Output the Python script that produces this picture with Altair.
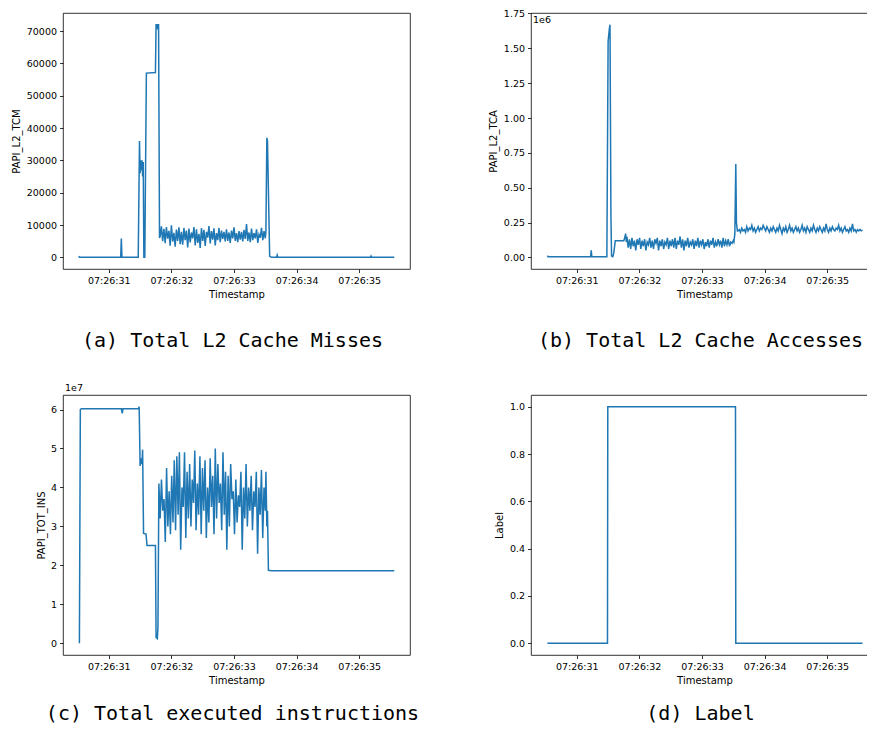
import altair as alt
import pandas as pd

BLUE = "#1f77b4"
W = 347
H_TOP, H_BOTTOM = 256, 260

# time axis: seconds after 07:26:30
X_DOMAIN = [0.268, 5.812]
X_TICKS = [1, 2, 3, 4, 5]

# ---------------- (a) PAPI_L2_TCM ----------------
a_t = [0.52, 0.53, 1.19, 1.20, 1.21, 1.47, 1.49, 1.50, 1.51, 1.52, 1.53, 1.54, 1.55,
       1.56, 1.575, 1.60, 1.745, 1.755, 1.775, 1.78, 1.785, 1.795, 1.81,
       3.51, 3.525, 3.535, 3.57, 3.60, 3.68, 3.69, 3.70, 5.18, 5.19, 5.20, 5.56]
a_v = [400, 0, 0, 5800, 0, 0, 36000, 26000, 30000, 27000, 30000, 25000, 29500,
       0, 0, 57000, 57200, 72000, 72000, 70500, 72000, 72000, 6000,
       8000, 37000, 36000, 300, 0, 0, 700, 0, 0, 400, 0, 0]
a_noise_span = [1.82, 3.50]
a_noise = [6500, 9600, 5000, 8800, 4400, 9400, 5800, 8200, 3600, 9900, 4900, 7600,
           3300, 8600, 5100, 9300, 4100, 7900, 3900, 9100, 5300, 8300, 3100, 8900,
           4600, 7700, 5900, 9400, 3700, 8700, 4500, 7300, 2900, 9100, 5100, 8500,
           3500, 7900, 6100, 9700, 4300, 8100, 5500, 9000, 3700, 7500, 5300, 9100,
           4700, 8300, 5700, 7900, 4900, 8700, 5100, 7700, 4500, 8300, 5900, 9300,
           5100, 7500, 4700, 8100, 5500, 7900, 4900, 8500, 5700, 10300, 5100, 7700,
           4700, 8900, 5300, 7500, 5900, 8700, 4500, 7100, 6100, 9100, 5300, 8100, 5900]

# ---------------- (b) PAPI_L2_TCA (x1e6) ----------------
b_t = [0.53, 0.54, 1.22, 1.23, 1.24, 1.48, 1.50, 1.52, 1.53, 1.545, 1.555, 1.575,
       1.59, 1.615, 1.75, 1.765, 1.78, 1.79,
       3.51, 3.525, 3.54, 3.55, 3.565]
b_v = [0.012, 0.004, 0.004, 0.05, 0.004, 0.004, 1.55, 1.64, 1.67, 0.3, 0.01, 0.005,
       0.03, 0.12, 0.12, 0.14, 0.17, 0.11,
       0.11, 0.17, 0.67, 0.25, 0.19]
b_noise1_span = [1.80, 3.50]
b_noise1 = [0.15, 0.07, 0.13, 0.06, 0.14, 0.08, 0.12, 0.05, 0.13, 0.09, 0.14, 0.06,
            0.12, 0.08, 0.13, 0.05, 0.11, 0.09, 0.14, 0.07, 0.12, 0.06, 0.13, 0.10,
            0.14, 0.05, 0.12, 0.08, 0.13, 0.06, 0.11, 0.09, 0.14, 0.06, 0.12, 0.08,
            0.13, 0.07, 0.14, 0.06, 0.12, 0.09, 0.15, 0.07, 0.13, 0.05, 0.12, 0.08,
            0.14, 0.07, 0.11, 0.09, 0.13, 0.06, 0.12, 0.08, 0.14, 0.07, 0.12, 0.09,
            0.13, 0.06, 0.11, 0.08, 0.13, 0.07, 0.12, 0.09, 0.14, 0.07, 0.11, 0.08,
            0.13, 0.09, 0.12, 0.07, 0.14, 0.08, 0.12, 0.09, 0.13, 0.08, 0.11, 0.10, 0.12]
b_noise2_span = [3.575, 5.565]
b_noise2 = [0.19, 0.20, 0.18, 0.21, 0.19, 0.20, 0.18, 0.22, 0.19, 0.21, 0.20, 0.23,
            0.19, 0.21, 0.18, 0.20, 0.22, 0.19, 0.21, 0.20, 0.23, 0.21, 0.19, 0.22,
            0.20, 0.18, 0.21, 0.19, 0.22, 0.20, 0.18, 0.21, 0.19, 0.23, 0.20, 0.17,
            0.21, 0.19, 0.22, 0.18, 0.20, 0.23, 0.19, 0.21, 0.18, 0.20, 0.22, 0.19,
            0.21, 0.18, 0.20, 0.23, 0.19, 0.21, 0.18, 0.22, 0.20, 0.18, 0.21, 0.19,
            0.23, 0.20, 0.18, 0.21, 0.19, 0.22, 0.20, 0.18, 0.21, 0.19, 0.24, 0.20,
            0.18, 0.21, 0.19, 0.22, 0.20, 0.19, 0.21, 0.20, 0.23, 0.19, 0.21, 0.18,
            0.20, 0.22, 0.19, 0.20, 0.18, 0.21, 0.19, 0.24, 0.19, 0.20, 0.18, 0.20,
            0.19, 0.20, 0.19, 0.195]

# ---------------- (c) PAPI_TOT_INS (x1e7) ----------------
c_t = [0.53, 0.545, 0.56, 1.20, 1.215, 1.225, 1.475, 1.485, 1.50, 1.515, 1.53, 1.54,
       1.555, 1.595, 1.61, 1.745, 1.755, 1.775, 1.785,
       3.51, 3.525, 3.535, 3.55, 3.60, 5.56]
c_v = [0.0, 6.0, 6.02, 6.02, 5.90, 6.02, 6.02, 6.07, 4.55, 4.75, 4.60, 4.97,
       2.82, 2.80, 2.51, 2.51, 0.15, 0.12, 0.4,
       4.4, 3.0, 3.4, 1.87, 1.86, 1.86]
c_noise_span = [1.80, 3.50]
c_noise = [4.1, 3.2, 4.2, 3.4, 3.7, 2.6, 4.5, 3.0, 3.9, 2.8, 4.3, 3.1, 4.7, 2.9,
           4.8, 3.3, 4.9, 2.4, 4.0, 3.5, 4.9, 2.7, 4.4, 3.2, 4.6, 3.0, 4.2, 3.6,
           4.95, 2.9, 4.1, 3.3, 4.8, 2.8, 4.5, 3.4, 4.7, 2.7, 4.0, 3.1, 4.75, 3.5,
           4.3, 2.8, 5.0, 3.2, 4.6, 3.6, 4.1, 2.9, 4.9, 3.3, 4.4, 2.4, 4.3, 3.0,
           4.6, 3.7, 3.9, 2.8, 4.2, 3.1, 3.8, 3.5, 4.4, 2.4, 4.0, 3.2, 4.6, 3.0,
           4.0, 3.4, 4.3, 2.9, 3.9, 3.5, 4.4, 2.3, 4.0, 3.3, 4.45, 2.7, 4.0, 3.4]

# ---------------- (d) Label ----------------
d_t = [0.53, 1.49, 1.495, 3.535, 3.54, 5.565]
d_v = [0, 0, 1, 1, 0, 0]


def build(key_t, key_v, segments=()):
    rows = list(zip(key_t, key_v))
    for (t0, t1), vals in segments:
        n = len(vals)
        step = (t1 - t0) / (n - 1)
        rows += [(t0 + i * step, v) for i, v in enumerate(vals)]
    df = pd.DataFrame(rows, columns=["t", "v"]).sort_values("t").reset_index(drop=True)
    df["i"] = range(len(df))
    return df


df_a = build(a_t, a_v, [(a_noise_span, a_noise)])
df_b = build(b_t, b_v, [(b_noise1_span, b_noise1), (b_noise2_span, b_noise2)])
df_c = build(c_t, c_v, [(c_noise_span, c_noise)])
df_d = build(d_t, d_v)


def panel(df, h, ytitle, ydomain, yticks, yfmt, title_x, caption, cap_y,
          offset_text=None, offset_y=-4):
    line = alt.Chart(df).mark_line(color=BLUE, strokeWidth=1.5, clip=True).encode(
        x=alt.X("t:Q",
                scale=alt.Scale(domain=X_DOMAIN, nice=False, zero=False),
                axis=alt.Axis(values=X_TICKS, labelExpr="'07:26:3' + datum.value",
                              title="Timestamp", titleY=25, titleBaseline="middle")),
        y=alt.Y("v:Q",
                scale=alt.Scale(domain=ydomain, nice=False, zero=False),
                axis=alt.Axis(values=yticks, format=yfmt, title=ytitle,
                              titleX=title_x, titleY=h / 2, titleAngle=-90,
                              titleAlign="center", titleBaseline="middle")),
        order="i:Q",
    )
    cap = alt.Chart(pd.DataFrame({"c": [caption]})).mark_text(
        font="DejaVu Sans Mono", fontSize=20, align="center", baseline="middle",
        color="black",
    ).encode(text="c:N", x=alt.value(169.5), y=alt.value(cap_y))
    layers = [line, cap]
    if offset_text:
        off = alt.Chart(pd.DataFrame({"c": [offset_text]})).mark_text(
            font="DejaVu Sans", fontSize=9.5, align="left", baseline="alphabetic",
            color="black",
        ).encode(text="c:N", x=alt.value(2), y=alt.value(offset_y))
        layers.append(off)
    return alt.layer(*layers).properties(width=W, height=h)


pa = panel(df_a, H_TOP, "PAPI_L2_TCM", [-3600, 75600],
           [0, 10000, 20000, 30000, 40000, 50000, 60000, 70000],
           "d", -47, "(a) Total L2 Cache Misses", 328)
pb = panel(df_b, H_TOP, "PAPI_L2_TCA", [-0.0835, 1.7535],
           [0, 0.25, 0.5, 0.75, 1.0, 1.25, 1.5, 1.75],
           ".2f", -37.5, "(b) Total L2 Cache Accesses", 328, "1e6", 10)
pc = panel(df_c, H_BOTTOM, "PAPI_TOT_INS", [-0.3035, 6.3735], [0, 1, 2, 3, 4, 5, 6],
           "d", -22, "(c) Total executed instructions", 319, "1e7", -4)
pd_ = panel(df_d, H_BOTTOM, "Label", [-0.05, 1.05], [0, 0.2, 0.4, 0.6, 0.8, 1.0],
            ".1f", -32, "(d) Label", 319)

chart = alt.concat(
    pa, pb, pc, pd_, columns=2, spacing={"row": 126, "column": 121}, bounds="flush",
).properties(
    padding={"left": 2, "top": 0, "right": -12, "bottom": 0},
    background="white",
).configure_view(
    stroke="black", strokeWidth=0.8,
).configure_axis(
    domain=False, grid=False,
    tickColor="black", tickSize=3.5, tickWidth=0.8,
    labelColor="black", labelFont="DejaVu Sans", labelFontSize=9.5, labelPadding=3,
    titleColor="black", titleFont="DejaVu Sans", titleFontSize=10, titleFontWeight="normal",
)

chart.save("out.html", embed_options={"renderer": "svg", "actions": False})
